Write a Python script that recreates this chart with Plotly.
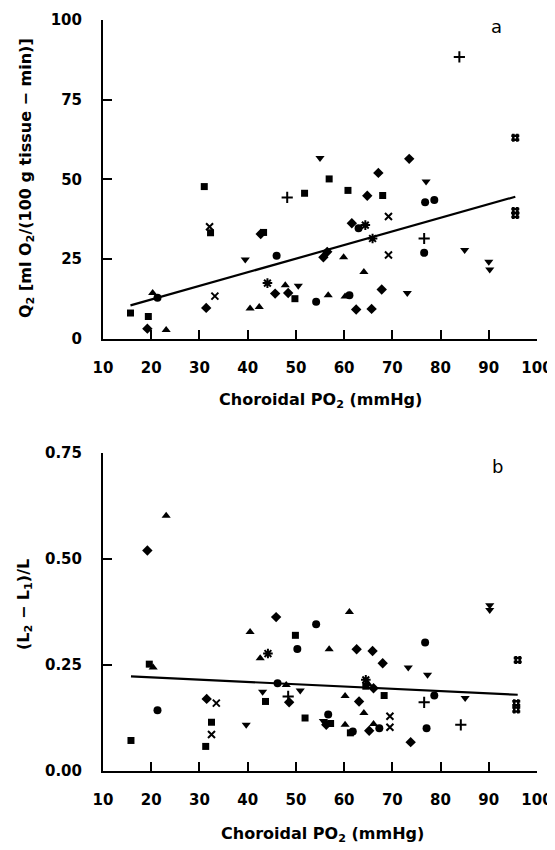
import plotly.graph_objects as go

# ---------------- Data: panel a  (Choroidal PO2, Q2) ----------------
a_square = [(15.7, 8.0), (19.4, 6.9), (31.0, 47.7), (32.3, 33.2), (43.3, 33.3),
            (49.8, 12.5), (51.8, 45.6), (56.9, 50.1), (60.8, 46.5), (68.0, 44.9)]
a_circle = [(21.3, 12.8), (46.0, 26.0), (54.2, 11.5), (61.1, 13.6), (76.6, 26.9),
            (76.8, 42.8), (78.7, 43.5), (63.0, 34.6)]
a_diamond = [(19.2, 3.1), (31.4, 9.6), (42.7, 32.8), (45.7, 14.1), (48.4, 14.3),
             (55.7, 25.5), (56.5, 27.2), (61.6, 36.2), (64.8, 44.8), (67.1, 52.0),
             (73.5, 56.4), (67.8, 15.4), (62.5, 9.1), (65.7, 9.3)]
a_tri_up = [(20.3, 14.3), (23.1, 2.7), (40.5, 9.4), (42.4, 9.9), (47.8, 16.7),
            (59.9, 25.5), (64.1, 20.9), (56.7, 13.6), (60.2, 13.2)]
a_tri_down = [(39.5, 24.8), (55.0, 56.7), (77.0, 49.3), (85.0, 27.8), (90.0, 24.1),
              (90.2, 21.7), (73.1, 14.3), (50.5, 16.6)]
a_x = [(32.1, 35.1), (33.2, 13.3), (69.2, 38.3), (69.2, 26.2)]
a_cross = [(48.2, 44.3), (76.6, 31.4), (83.9, 88.4)]
a_star = [(44.1, 17.4), (65.9, 31.4), (64.4, 35.6)]
a_hash = [(95.5, 63.0), (95.5, 40.0), (95.5, 38.8)]
a_fit = (3.69, 0.4275)          # intercept, slope

# ---------------- Data: panel b  (Choroidal PO2, (L2-L1)/L) ----------------
b_square = [(15.8, 0.072), (19.6, 0.252), (32.5, 0.115), (31.3, 0.058), (43.7, 0.164),
            (49.9, 0.320), (51.9, 0.125), (57.2, 0.112), (61.3, 0.090), (68.3, 0.178),
            (64.5, 0.200)]
b_circle = [(21.3, 0.143), (46.2, 0.207), (50.3, 0.288), (54.2, 0.346), (56.7, 0.133),
            (61.8, 0.093), (67.3, 0.101), (76.8, 0.303), (78.7, 0.178), (77.1, 0.101)]
b_diamond = [(19.2, 0.520), (31.5, 0.170), (45.9, 0.363), (48.6, 0.162), (62.6, 0.287),
             (65.9, 0.283), (68.0, 0.254), (63.1, 0.164), (56.3, 0.109), (65.2, 0.095),
             (73.8, 0.068), (66.1, 0.195)]
b_tri_up = [(23.1, 0.602), (20.4, 0.244), (40.5, 0.328), (42.6, 0.266), (48.0, 0.203),
            (61.1, 0.375), (56.9, 0.287), (60.2, 0.177), (64.1, 0.137), (60.2, 0.109),
            (66.1, 0.111), (65.0, 0.205)]
b_tri_down = [(39.7, 0.109), (43.1, 0.187), (50.9, 0.190), (73.3, 0.244), (77.3, 0.227),
              (90.2, 0.391), (90.2, 0.380), (85.1, 0.172), (55.7, 0.118)]
b_x = [(33.5, 0.160), (32.5, 0.086), (69.5, 0.129), (69.5, 0.103)]
b_cross = [(48.4, 0.176), (76.6, 0.162), (84.2, 0.109)]
b_star = [(44.2, 0.277), (64.5, 0.215)]
b_hash = [(96.0, 0.262), (95.7, 0.160), (95.7, 0.145)]
b_fit = (0.2315, -0.000538)

x_ticks = [10, 20, 30, 40, 50, 60, 70, 80, 90, 100]
a_y_ticks = [0, 25, 50, 75, 100]
b_y_ticks = [0.0, 0.25, 0.50, 0.75]
b_y_ticklabels = ["0.00", "0.25", "0.50", "0.75"]

# ---------------- Styles ----------------
STYLE = {
    "square": dict(symbol="square", size=7),
    "circle": dict(symbol="circle", size=8),
    "diamond": dict(symbol="diamond", size=8),
    "tri_up": dict(symbol="triangle-up", size=8),
    "tri_down": dict(symbol="triangle-down", size=8),
    "x": dict(symbol="x-thin", size=7, line=dict(width=2, color="black")),
    "cross": dict(symbol="cross-thin", size=8, line=dict(width=2, color="black")),
    "star": dict(symbol="asterisk", size=8, line=dict(width=2, color="black")),
    "hash": dict(symbol="hash", size=8, line=dict(width=2.5, color="black")),
}

FONT = "DejaVu Sans"
OFF = 8                       # page body margin of the browser
W, H = 555 - OFF, 850 - OFF
# plot area in reference-picture pixels
PLOT_L, PLOT_R, PLOT_T, PLOT_B = 103, 537, 20, 771
ML, MR = PLOT_L - OFF, W - (PLOT_R - OFF)
MT, MB = PLOT_T - OFF, H - (PLOT_B - OFF)
PH = H - MT - MB
PW = W - ML - MR


def py2paper(py):
    return (PLOT_B - py) / PH


def px2paper(px):
    return (px - PLOT_L) / PW


fig = go.Figure()

panels = [
    ("x", "y", dict(square=a_square, circle=a_circle, diamond=a_diamond, tri_up=a_tri_up,
                    tri_down=a_tri_down, x=a_x, cross=a_cross, star=a_star, hash=a_hash), a_fit),
    ("x2", "y2", dict(square=b_square, circle=b_circle, diamond=b_diamond, tri_up=b_tri_up,
                      tri_down=b_tri_down, x=b_x, cross=b_cross, star=b_star, hash=b_hash), b_fit),
]

for xa, ya, groups, fit in panels:
    allx = []
    for name, pts in groups.items():
        xs = [p[0] for p in pts]
        ys = [p[1] for p in pts]
        allx += xs
        st = dict(STYLE[name])
        st.setdefault("color", "black")
        fig.add_trace(go.Scatter(x=xs, y=ys, mode="markers", marker=st, cliponaxis=False,
                                 xaxis=xa, yaxis=ya, showlegend=False, hoverinfo="skip"))
    x0, x1 = min(allx), max(allx)
    b0, b1 = fit
    fig.add_trace(go.Scatter(x=[x0, x1], y=[b0 + b1 * x0, b0 + b1 * x1], mode="lines",
                             line=dict(color="black", width=2.2),
                             xaxis=xa, yaxis=ya, showlegend=False, hoverinfo="skip"))

tickfont = dict(family=FONT, size=15, color="black", weight="bold")
common_x = dict(range=[10, 100], tickvals=x_ticks, ticks="inside", ticklen=9, tickwidth=2,
                showline=True, linewidth=2, linecolor="black", showgrid=False, zeroline=False,
                tickfont=tickfont, ticklabelstandoff=14, tickcolor="black", automargin=False)
common_y = dict(ticks="inside", ticklen=9, tickwidth=2, showline=True, linewidth=2,
                linecolor="black", showgrid=False, zeroline=False, tickfont=tickfont,
                ticklabelstandoff=16, tickcolor="black", automargin=False)

fig.update_layout(
    width=W, height=H,
    margin=dict(l=ML, r=MR, t=MT, b=MB, autoexpand=False),
    paper_bgcolor="white", plot_bgcolor="white",
    xaxis=dict(domain=[0, 1], anchor="y", **common_x),
    yaxis=dict(domain=[py2paper(338.5), 1], anchor="x", range=[0, 100],
               tickvals=a_y_ticks, **common_y),
    xaxis2=dict(domain=[0, 1], anchor="y2", **common_x),
    yaxis2=dict(domain=[0, py2paper(453)], anchor="x2", range=[0, 0.75],
                tickvals=b_y_ticks, ticktext=b_y_ticklabels, **common_y),
)

title_font = dict(family=FONT, size=16, color="black", weight="bold")
xtitle = "Choroidal PO<sub>2</sub> (mmHg)"
ann = [
    dict(text=xtitle, x=px2paper(320), y=py2paper(400), xanchor="center", yanchor="middle"),
    dict(text=xtitle, x=px2paper(322), y=py2paper(835), xanchor="center", yanchor="middle"),
    dict(text="Q<sub>2</sub> [ml O<sub>2</sub>/(100 g tissue \u2212 min)]", x=px2paper(26),
         y=py2paper(178), xanchor="center", yanchor="middle", textangle=-90),
    dict(text="(L<sub>2</sub> \u2212 L<sub>1</sub>)/L", x=px2paper(24), y=py2paper(605),
         xanchor="center", yanchor="middle", textangle=-90),
]
for a in ann:
    fig.add_annotation(xref="paper", yref="paper", showarrow=False, font=title_font, **a)

panel_font = dict(family=FONT, size=18, color="black")
fig.add_annotation(xref="paper", yref="paper", x=px2paper(496), y=py2paper(27), text="a",
                   showarrow=False, font=panel_font, xanchor="center", yanchor="middle")
fig.add_annotation(xref="paper", yref="paper", x=px2paper(497), y=py2paper(466), text="b",
                   showarrow=False, font=panel_font, xanchor="center", yanchor="middle")

fig.write_html("out.html")
